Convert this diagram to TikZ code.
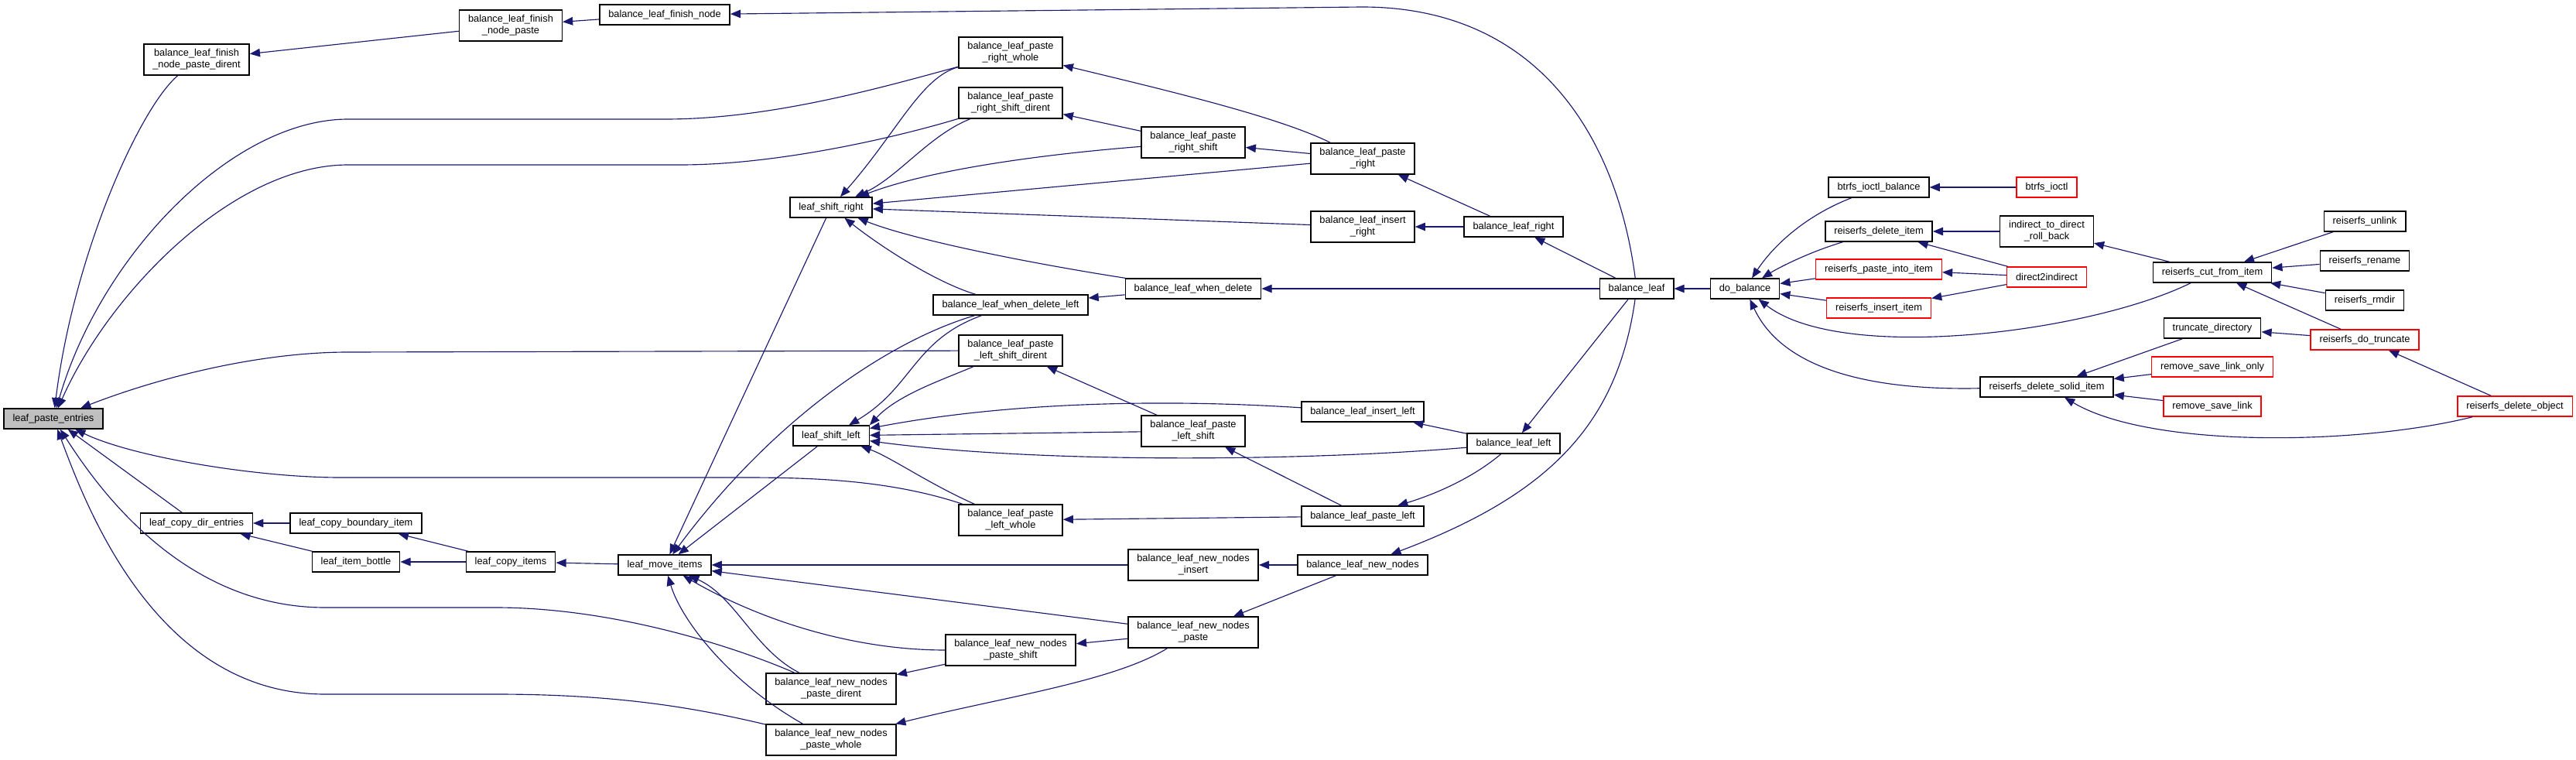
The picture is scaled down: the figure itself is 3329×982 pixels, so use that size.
\documentclass[tikz,border=0pt]{standalone}
\usepackage{fontspec}
\setmainfont{Liberation Sans}
\usetikzlibrary{arrows.meta}
\definecolor{edgeblue}{HTML}{191970}
\definecolor{rootgray}{HTML}{BFBFBF}

\begin{document}
\begin{tikzpicture}[x=0.02cm, y=-0.02cm,
  fn/.style={draw=black, line width=0.8pt, fill=white, align=center,
    font=\fontsize{7.3}{8.5}\selectfont, inner xsep=6.5pt, inner ysep=2pt,
    minimum height=14.8pt},
  dbl/.style={fn, minimum height=22.7pt},
  hot/.style={fn, draw=red},
  root/.style={fn, fill=rootgray},
  call/.style={draw=edgeblue, line width=0.65pt,
    -{Triangle[length=7.5pt, width=6pt]}}]

  \useasboundingbox (0,0) rectangle (3329,982);

  % column 1 - 5
  \node[root] (lpe)        at (69,541)  {leaf\_paste\_entries};
  \node[dbl]  (finDirent)  at (254,77)  {balance\_leaf\_finish\\\_node\_paste\_dirent};
  \node[dbl]  (finPaste)   at (660,33)  {balance\_leaf\_finish\\\_node\_paste};
  \node[fn]   (finNode)    at (859,19)  {balance\_leaf\_finish\_node};
  \node[fn]   (copyDir)    at (254,676) {leaf\_copy\_dir\_entries};
  \node[fn]   (copyBnd)    at (460,676) {leaf\_copy\_boundary\_item};
  \node[fn]   (itemBottle) at (460,726) {leaf\_item\_bottle};
  \node[fn]   (copyItems)  at (660,726) {leaf\_copy\_items};
  \node[fn]   (moveItems)  at (859,730) {leaf\_move\_items};

  % shift helpers
  \node[fn]  (shiftR)   at (1074,268) {leaf\_shift\_right};
  \node[fn]  (shiftL)   at (1074,563) {leaf\_shift\_left};
  \node[dbl] (nnDirent) at (1074,890) {balance\_leaf\_new\_nodes\\\_paste\_dirent};
  \node[dbl] (nnWhole)  at (1074,956) {balance\_leaf\_new\_nodes\\\_paste\_whole};

  \node[dbl] (prWhole)       at (1306,68)  {balance\_leaf\_paste\\\_right\_whole};
  \node[dbl] (prShiftDirent) at (1306,133) {balance\_leaf\_paste\\\_right\_shift\_dirent};
  \node[fn]  (whenDelL)      at (1306,394) {balance\_leaf\_when\_delete\_left};
  \node[dbl] (plShiftDirent) at (1306,453) {balance\_leaf\_paste\\\_left\_shift\_dirent};
  \node[dbl] (plWhole)       at (1306,672) {balance\_leaf\_paste\\\_left\_whole};
  \node[dbl] (nnShift)       at (1306,840) {balance\_leaf\_new\_nodes\\\_paste\_shift};

  \node[dbl] (prShift)  at (1542,184) {balance\_leaf\_paste\\\_right\_shift};
  \node[fn]  (whenDel)  at (1542,373) {balance\_leaf\_when\_delete};
  \node[dbl] (plShift)  at (1542,557) {balance\_leaf\_paste\\\_left\_shift};
  \node[dbl] (nnInsert) at (1542,730) {balance\_leaf\_new\_nodes\\\_insert};
  \node[dbl] (nnPaste)  at (1542,817) {balance\_leaf\_new\_nodes\\\_paste};

  \node[dbl] (pRight)   at (1761,205) {balance\_leaf\_paste\\\_right};
  \node[dbl] (insRight) at (1761,293) {balance\_leaf\_insert\\\_right};
  \node[fn]  (insLeft)  at (1761,532) {balance\_leaf\_insert\_left};
  \node[fn]  (pLeft)    at (1761,667) {balance\_leaf\_paste\_left};
  \node[fn]  (newNodes) at (1761,730) {balance\_leaf\_new\_nodes};

  \node[fn] (bRight) at (1956,293) {balance\_leaf\_right};
  \node[fn] (bLeft)  at (1956,573) {balance\_leaf\_left};
  \node[fn] (bLeaf)  at (2115,373) {balance\_leaf};
  \node[fn] (doBal)  at (2255,373) {do\_balance};

  % callers of do_balance
  \node[fn]  (btrfsBal)   at (2428,242) {btrfs\_ioctl\_balance};
  \node[fn]  (delItem)    at (2428,299) {reiserfs\_delete\_item};
  \node[hot] (pasteInto)  at (2428,348) {reiserfs\_paste\_into\_item};
  \node[hot] (insItem)    at (2428,398) {reiserfs\_insert\_item};
  \node[hot] (btrfsIoctl) at (2645,242) {btrfs\_ioctl};
  \node[dbl] (i2d)        at (2645,299) {indirect\_to\_direct\\\_roll\_back};
  \node[hot] (d2i)        at (2645,358) {direct2indirect};
  \node[fn]  (solid)      at (2645,500) {reiserfs\_delete\_solid\_item};
  \node[fn]  (cutItem)    at (2859,352) {reiserfs\_cut\_from\_item};
  \node[fn]  (truncDir)   at (2859,424) {truncate\_directory};
  \node[hot] (rslOnly)    at (2859,474) {remove\_save\_link\_only};
  \node[hot] (rsl)        at (2859,525) {remove\_save\_link};
  \node[fn]  (unlink)     at (3056,286) {reiserfs\_unlink};
  \node[fn]  (rename)     at (3056,337) {reiserfs\_rename};
  \node[fn]  (rmdir)      at (3056,388) {reiserfs\_rmdir};
  \node[hot] (doTrunc)    at (3056,439) {reiserfs\_do\_truncate};
  \node[hot] (delObj)     at (3250,525) {reiserfs\_delete\_object};

  % edges into leaf_paste_entries
  \draw[call] (finDirent) .. controls (180,140) and (95,330) .. (lpe);
  \draw[call] (prWhole) .. controls (1150,110) and (1000,154) .. (860,154)
    -- (450,154) .. controls (300,154) and (130,330) .. (lpe);
  \draw[call] (prShiftDirent) .. controls (1150,180) and (1000,213) .. (880,213)
    -- (450,213) .. controls (300,213) and (140,380) .. (lpe);
  \draw[call] (plShiftDirent) -- (450,455) .. controls (330,455) and (200,490) .. (lpe);
  \draw[call] (plWhole) .. controls (1150,620) and (1050,617) .. (960,617)
    -- (440,617) .. controls (330,617) and (170,590) .. (lpe);
  \draw[call] (copyDir) -- (lpe);
  \draw[call] (nnDirent) .. controls (960,840) and (800,785) .. (640,785)
    -- (420,785) .. controls (230,785) and (120,620) .. (lpe);
  \draw[call] (nnWhole) .. controls (900,915) and (800,897) .. (640,897)
    -- (420,897) .. controls (200,897) and (110,650) .. (lpe);

  \draw[call] (finPaste) -- (finDirent);
  \draw[call] (finNode) -- (finPaste);
  \draw[call] (bLeaf) .. controls (2090,180) and (1990,9) .. (1760,9) -- (finNode);

  \draw[call] (copyBnd) -- (copyDir);
  \draw[call] (itemBottle) -- (copyDir);
  \draw[call] (copyItems) -- (copyBnd);
  \draw[call] (copyItems) -- (itemBottle);
  \draw[call] (moveItems) -- (copyItems);

  % edges into leaf_shift_right
  \draw[call] (prWhole) .. controls (1190,100) and (1160,170) .. (shiftR);
  \draw[call] (prShiftDirent) .. controls (1200,175) and (1160,230) .. (shiftR);
  \draw[call] (prShift) .. controls (1340,200) and (1200,220) .. (shiftR);
  \draw[call] (pRight) -- (shiftR);
  \draw[call] (insRight) -- (shiftR);
  \draw[call] (whenDel) .. controls (1330,340) and (1180,310) .. (shiftR);
  \draw[call] (whenDelL) .. controls (1210,365) and (1140,320) .. (shiftR);

  \draw[call] (prShift) -- (prShiftDirent);
  \draw[call] (pRight) -- (prShift);
  \draw[call] (pRight) .. controls (1650,150) and (1500,115) .. (prWhole);
  \draw[call] (bRight) -- (pRight);
  \draw[call] (bRight) -- (insRight);
  \draw[call] (bLeaf) -- (bRight);
  \draw[call] (bLeaf) -- (whenDel);
  \draw[call] (whenDel) -- (whenDelL);

  % edges into leaf_shift_left
  \draw[call] (plShiftDirent) .. controls (1220,490) and (1160,510) .. (shiftL.north east);
  \draw[call] (whenDelL) .. controls (1180,440) and (1180,500) .. (shiftL);
  \draw[call] (insLeft) .. controls (1500,515) and (1300,520) .. (shiftL);
  \draw[call] (plShift) -- (shiftL);
  \draw[call] (bLeft) .. controls (1700,595) and (1350,600) .. (shiftL);
  \draw[call] (plWhole) .. controls (1200,625) and (1150,590) .. (shiftL);

  \draw[call] (plShift) -- (plShiftDirent);
  \draw[call] (bLeft) -- (insLeft);
  \draw[call] (pLeft) -- (plShift);
  \draw[call] (bLeft) .. controls (1900,620) and (1850,640) .. (pLeft);
  \draw[call] (pLeft) -- (plWhole);
  \draw[call] (bLeaf) -- (bLeft);
  \draw[call] (bLeaf) .. controls (2090,550) and (2000,640) .. (newNodes);

  % edges into leaf_move_items
  \draw[call] (shiftR) -- (moveItems);
  \draw[call] (shiftL) -- (moveItems);
  \draw[call] (whenDelL) .. controls (1150,440) and (1000,540) .. (moveItems);
  \draw[call] (nnInsert) -- (moveItems);
  \draw[call] (nnPaste) -- (moveItems);
  \draw[call] (nnShift) .. controls (1100,840) and (980,800) .. (moveItems);
  \draw[call] (nnDirent) .. controls (975,840) and (950,770) .. (moveItems);
  \draw[call] (nnWhole) .. controls (940,880) and (880,800) .. (moveItems);

  \draw[call] (nnShift) -- (nnDirent);
  \draw[call] (nnPaste) -- (nnShift);
  \draw[call] (nnPaste) .. controls (1440,880) and (1300,900) .. (nnWhole);
  \draw[call] (newNodes) -- (nnInsert);
  \draw[call] (newNodes) -- (nnPaste);

  % right part
  \draw[call] (doBal) -- (bLeaf);
  \draw[call] (btrfsBal) .. controls (2330,280) and (2290,320) .. (doBal);
  \draw[call] (delItem) .. controls (2340,325) and (2300,345) .. (doBal);
  \draw[call] (pasteInto) -- (doBal);
  \draw[call] (insItem) -- (doBal);
  \draw[call] (cutItem) .. controls (2700,430) and (2380,470) .. (doBal);
  \draw[call] (solid) .. controls (2400,505) and (2300,470) .. (doBal);

  \draw[call] (btrfsIoctl) -- (btrfsBal);
  \draw[call] (i2d) -- (delItem);
  \draw[call] (d2i) -- (delItem);
  \draw[call] (d2i) -- (pasteInto);
  \draw[call] (d2i) -- (insItem);
  \draw[call] (cutItem) -- (i2d);
  \draw[call] (unlink) -- (cutItem);
  \draw[call] (rename) -- (cutItem);
  \draw[call] (rmdir) -- (cutItem);
  \draw[call] (doTrunc) -- (cutItem);
  \draw[call] (doTrunc) -- (truncDir);
  \draw[call] (truncDir) -- (solid);
  \draw[call] (rslOnly) -- (solid);
  \draw[call] (rsl) -- (solid);
  \draw[call] (delObj) .. controls (3050,575) and (2780,580) .. (solid);
  \draw[call] (delObj) -- (doTrunc);
\end{tikzpicture}
\end{document}
